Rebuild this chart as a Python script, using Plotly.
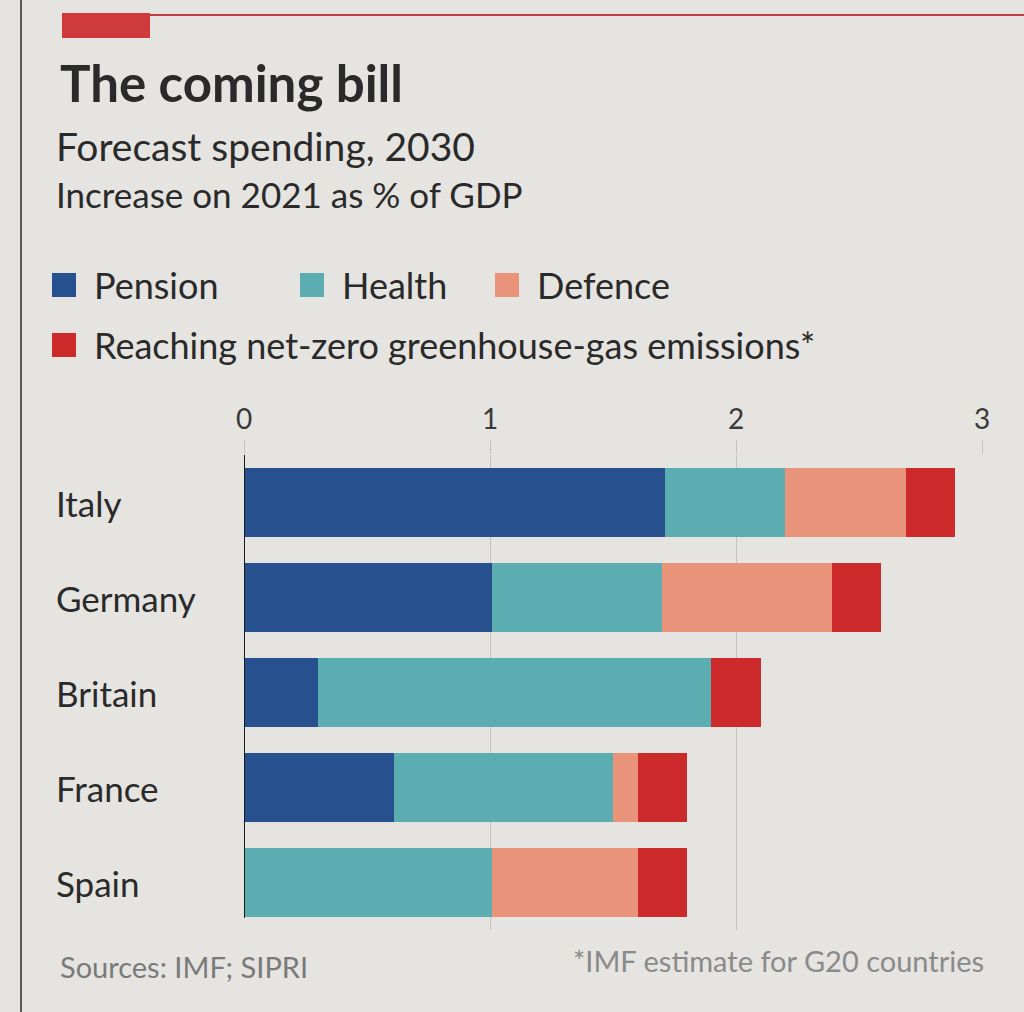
import plotly.graph_objects as go

countries = ["Italy", "Germany", "Britain", "France", "Spain"]
pension = [1.71, 1.01, 0.30, 0.61, 0.0]
health = [0.49, 0.69, 1.60, 0.89, 1.01]
defence = [0.49, 0.69, 0.0, 0.10, 0.59]
net_zero = [0.20, 0.20, 0.20, 0.20, 0.20]
series_names = ["Pension", "Health", "Defence", "Reaching net-zero greenhouse-gas emissions*"]
series_colors = ["#26508e", "#5badb1", "#e8937a", "#cd2a2c"]
x_ticks = [0, 1, 2, 3]

BG = "#e5e4e0"
FONT = "Lato"

fig = go.Figure()
for name, vals, col in zip(series_names, [pension, health, defence, net_zero], series_colors):
    fig.add_trace(go.Bar(
        y=countries, x=vals, name=name, orientation="h",
        marker=dict(color=col, line=dict(width=0)),
        showlegend=False, width=0.72,
    ))

W, H = 1024, 1012
L, R, T, B = 244, 42, 455, 82
pw, ph = W - L - R, H - T - B

def px(x):
    return (x - L) / pw

def py(y):
    return 1 - (y - T) / ph

shapes = []
annotations = []

# top rule and red tab
shapes.append(dict(type="line", xref="paper", yref="paper", x0=px(150), x1=px(1024), y0=py(15), y1=py(15),
                   line=dict(color="#c43a3e", width=2)))
shapes.append(dict(type="rect", xref="paper", yref="paper", x0=px(62), x1=px(150), y0=py(13), y1=py(38),
                   fillcolor="#cf3a3a", line=dict(width=0)))
# left rule
shapes.append(dict(type="line", xref="paper", yref="paper", x0=px(21), x1=px(21), y0=py(0), y1=py(1012),
                   line=dict(color="#5a5a5a", width=2)))

annotations.append(dict(text="<b>The coming bill</b>", xref="paper", yref="paper", x=px(58), y=py(82),
                        xanchor="left", yanchor="middle", showarrow=False,
                        font=dict(family=FONT, size=51, color="#2a2a2a")))
annotations.append(dict(text="Forecast spending, 2030", xref="paper", yref="paper", x=px(54), y=py(146),
                        xanchor="left", yanchor="middle", showarrow=False,
                        font=dict(family=FONT, size=39, color="#2a2a2a")))
annotations.append(dict(text="Increase on 2021 as % of GDP", xref="paper", yref="paper", x=px(54), y=py(194),
                        xanchor="left", yanchor="middle", showarrow=False,
                        font=dict(family=FONT, size=35, color="#2a2a2a")))

# legend
leg_pos = [(52, 285), (300, 285), (495, 285), (52, 345)]
for (lx, ly), name, col in zip(leg_pos, series_names, series_colors):
    shapes.append(dict(type="rect", xref="paper", yref="paper", x0=px(lx), x1=px(lx + 24),
                       y0=py(ly - 12), y1=py(ly + 12), fillcolor=col, line=dict(width=0)))
    annotations.append(dict(text=name, xref="paper", yref="paper", x=px(lx + 40), y=py(ly),
                            xanchor="left", yanchor="middle", showarrow=False,
                            font=dict(family=FONT, size=36, color="#2a2a2a")))

# country labels
for c in countries:
    annotations.append(dict(text=c, xref="paper", yref="y", x=px(54), y=c,
                            xanchor="left", yanchor="middle", showarrow=False,
                            font=dict(family=FONT, size=35, color="#2a2a2a")))

# zero line
shapes.append(dict(type="line", xref="x", yref="paper", x0=0, x1=0, y0=py(918), y1=1,
                   line=dict(color="#1a1a1a", width=2)))

annotations.append(dict(text="Sources: IMF; SIPRI", xref="paper", yref="paper", x=px(58), y=py(966),
                        xanchor="left", yanchor="middle", showarrow=False,
                        font=dict(family=FONT, size=29, color="#7a7a7a")))
annotations.append(dict(text="*IMF estimate for G20 countries", xref="paper", yref="paper", x=px(986), y=py(960),
                        xanchor="right", yanchor="middle", showarrow=False,
                        font=dict(family=FONT, size=29, color="#8a8a8a")))

fig.update_layout(
    width=W, height=H,
    margin=dict(l=L, r=R, t=T, b=B),
    paper_bgcolor=BG, plot_bgcolor=BG,
    barmode="stack", bargap=0.28,
    shapes=shapes, annotations=annotations,
    xaxis=dict(side="top", range=[0, 3.0], tickvals=x_ticks, ticktext=[str(t) for t in x_ticks],
               showgrid=True, gridcolor="#c4c3bf", gridwidth=1, zeroline=False,
               ticks="outside", ticklen=14, tickcolor="#c4c3bf",
               tickfont=dict(family=FONT, size=28, color="#3a3a3a"), showline=False,
               fixedrange=True),
    yaxis=dict(categoryorder="array", categoryarray=countries, autorange="reversed",
               showticklabels=False, showgrid=False, zeroline=False, showline=False, ticks=""),
    font=dict(family=FONT),
)

fig.write_html("out.html", config={"displayModeBar": False},
               post_script="document.body.style.margin='0px';document.body.style.background='" + BG + "';")
